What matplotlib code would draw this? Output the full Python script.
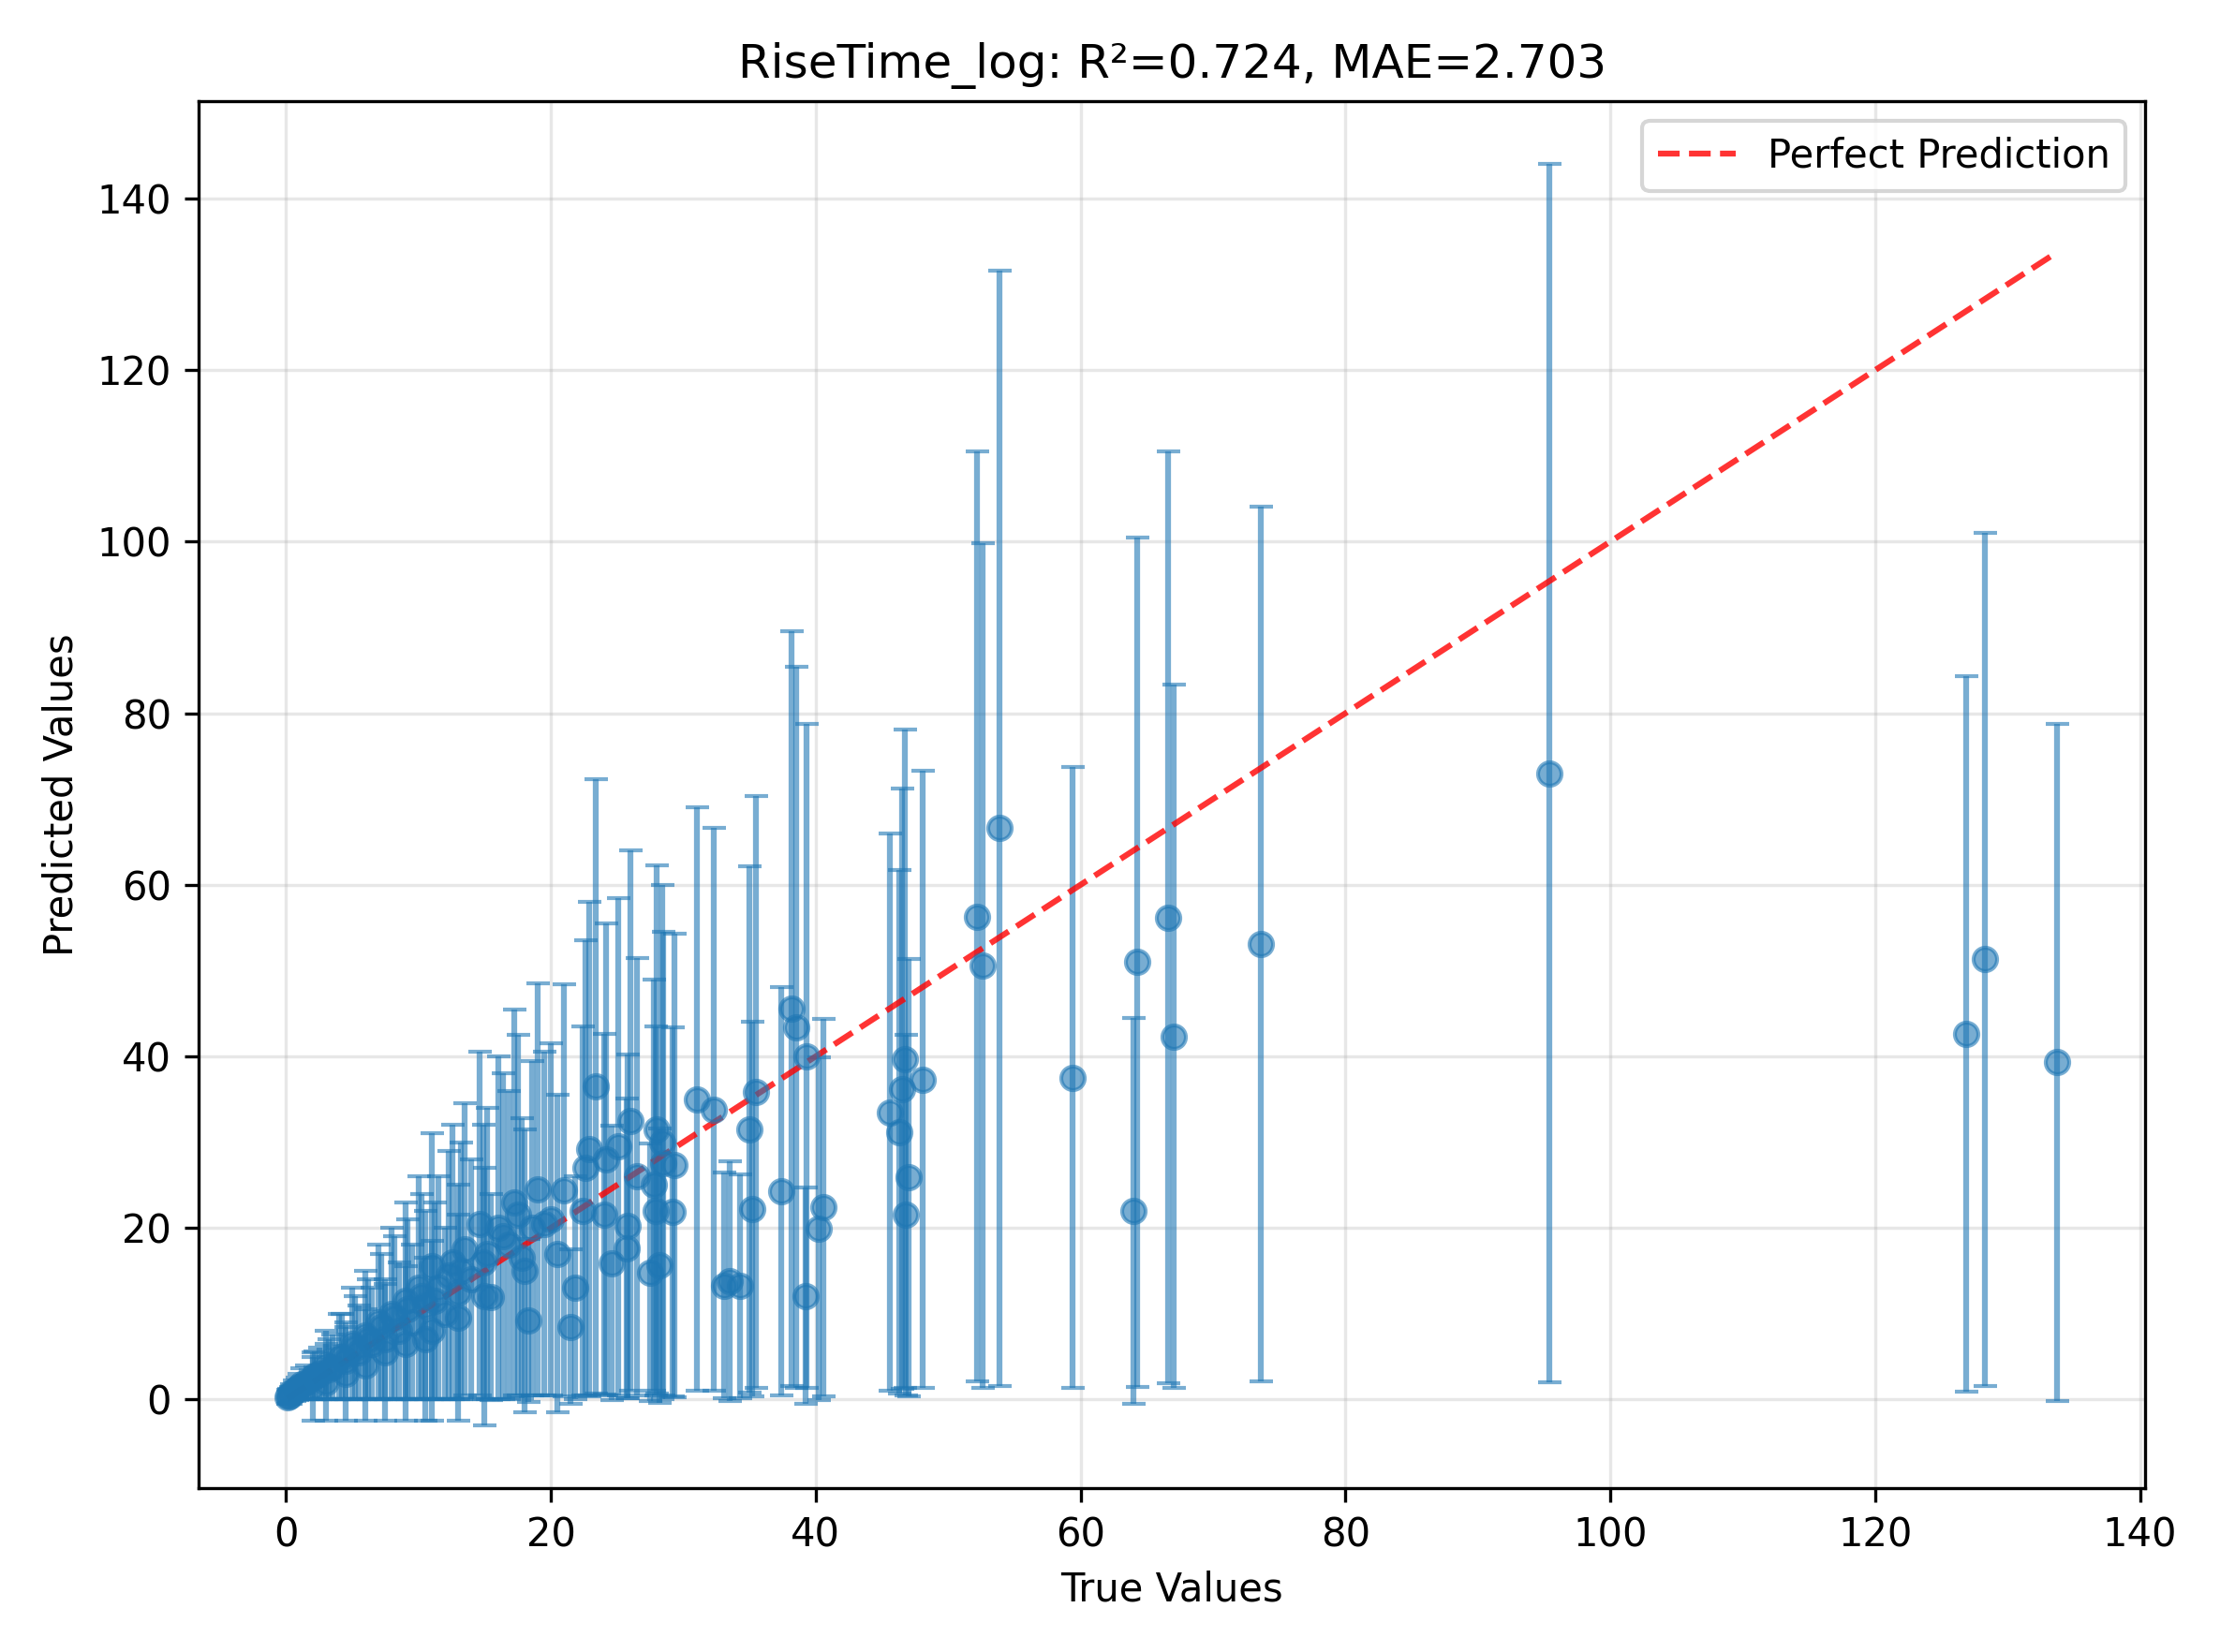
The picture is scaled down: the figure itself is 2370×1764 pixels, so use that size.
import matplotlib
matplotlib.use("Agg")
import matplotlib.pyplot as plt
import numpy as np

true_vals = [95.4,133.7,128.3,126.9,73.6,66.6,67.0,64.3,64.0,59.4,53.9,52.2,52.6,48.1,47.0,46.7,46.5,46.3,46.8,45.6,
             40.6,40.2,39.3,39.2,38.5,38.2,37.4,35.5,35.0,35.2,34.3,33.1,33.5,32.3,31.0,29.3,29.2,28.5,28.0,27.5,
             28.2,27.8,26.0,25.8,25.7,25.1,24.6,24.0,23.4,22.9,22.6,21.8,21.5,21.0,20.0,19.0,18.6,18.3,17.8,17.2,
             16.8,16.0,15.5,15.2,14.6,14.0,13.5,13.0,12.6,12.0,11.5,11.0,10.5,10.0,9.5,9.0,8.5,8.0,7.5,7.0,
             6.5,6.0,5.5,5.0,4.5,4.0,3.5,3.0,2.5,2.0,1.5,1.0,0.6,0.3,0.1,
             27.9,28.4,26.5,24.2,22.4,19.5,17.5,16.4,14.9,13.2,12.3,11.2,10.2,9.2,8.2,7.2,6.2,5.2,4.2,3.2,2.2,1.2,0.8,0.4,0.2,
             15.0,13.0,11.0,9.0,7.5,6.0,4.5,3.0,2.0,18.0,20.5,10.5]
pred_vals = [73.0,39.3,51.3,42.6,53.1,56.2,42.3,51.0,22.0,37.5,66.6,56.3,50.6,37.3,25.9,39.7,36.2,31.2,21.5,33.5,
             22.4,19.9,40.0,12.1,43.4,45.6,24.3,35.8,31.5,22.2,13.2,13.3,13.8,33.8,35.0,27.3,21.9,27.5,31.5,14.8,
             15.6,25.0,32.5,20.2,17.6,29.5,15.9,21.6,36.5,29.2,27.0,13.0,8.5,24.4,21.0,24.5,20.0,9.2,16.5,23.0,
             18.0,20.0,11.9,17.0,20.5,14.0,17.5,12.5,16.0,10.0,13.0,15.5,11.0,13.0,9.0,11.5,8.0,10.0,7.0,9.0,
             6.5,7.5,5.5,6.5,4.5,5.0,3.8,4.0,3.0,2.5,2.0,1.5,1.0,0.5,0.3,
             22.0,30.0,26.0,28.0,22.0,20.5,21.5,19.0,16.0,15.0,14.5,11.5,12.0,10.5,9.5,8.5,7.0,6.0,5.0,3.5,2.8,1.8,1.2,0.8,0.4,
             12.0,9.5,8.0,6.5,5.5,4.0,3.0,2.0,1.5,15.0,17.0,7.0]
err_vals = [71.0,39.5,49.7,41.7,51.0,54.3,41.0,49.5,22.5,36.2,65.0,54.2,49.2,36.0,25.5,38.4,35.0,30.5,21.0,32.5,
            22.0,20.0,38.7,12.6,42.0,44.0,23.8,34.5,30.7,21.8,13.0,13.2,14.0,32.8,34.0,27.0,21.5,27.0,30.8,15.0,
            16.0,24.0,31.5,20.0,17.5,29.0,16.0,21.0,35.8,28.8,26.5,13.0,9.0,24.0,20.5,24.0,19.5,9.5,16.3,22.5,
            18.0,20.0,12.0,17.0,20.0,14.0,17.0,12.5,16.0,10.0,13.0,15.5,11.0,13.0,9.0,11.5,8.0,10.0,7.0,9.0,
            6.5,7.5,5.5,6.5,4.5,5.0,3.8,4.0,3.0,2.5,2.0,1.5,1.2,1.0,0.8,
            21.5,30.0,25.5,27.5,21.5,20.0,21.0,19.0,16.0,15.0,14.5,11.5,12.0,10.5,9.5,8.5,7.0,6.0,5.0,3.5,2.8,1.8,1.3,1.0,0.8,
            15.0,12.0,10.5,9.0,8.0,6.5,5.5,4.5,4.0,16.5,18.5,9.5]

fig, ax = plt.subplots(figsize=(7.9, 5.88), dpi=300)
ax.errorbar(true_vals, pred_vals, yerr=err_vals, fmt='o', alpha=0.6, capsize=3, color='#1f77b4')
lo, hi = min(true_vals), max(true_vals)
ax.plot([lo, hi], [lo, hi], 'r--', alpha=0.8, lw=1.5, label='Perfect Prediction')
ax.set_xlabel('True Values')
ax.set_ylabel('Predicted Values')
ax.set_title('RiseTime_log: R²=0.724, MAE=2.703')
ax.legend()
ax.grid(True, alpha=0.3)
fig.tight_layout()
fig.savefig('out.png')
